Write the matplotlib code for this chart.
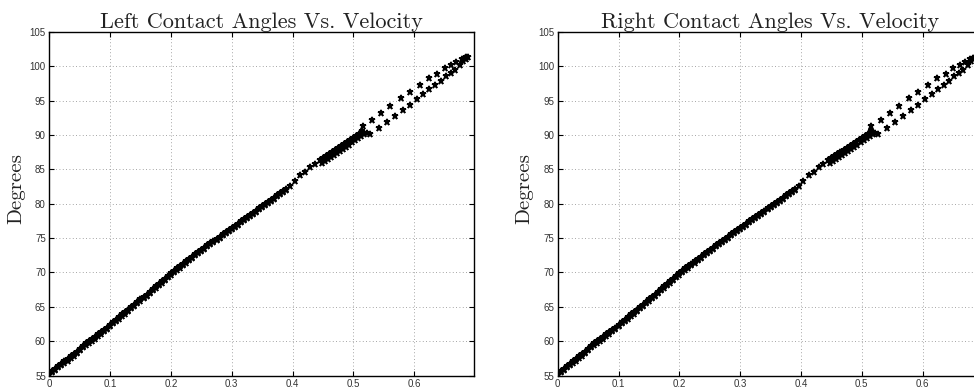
import matplotlib.pyplot as plt

# velocity / contact angle samples (same run for both sides)
vel_dense = [0.000, 0.005, 0.010, 0.015, 0.020, 0.025, 0.030, 0.035, 0.040, 0.045,
             0.050, 0.055, 0.060, 0.065, 0.070, 0.075, 0.080, 0.085, 0.090, 0.095,
             0.100, 0.105, 0.110, 0.115, 0.120, 0.125, 0.130, 0.135, 0.140, 0.145,
             0.150, 0.155, 0.160, 0.165, 0.170, 0.175, 0.180, 0.185, 0.190, 0.195,
             0.200, 0.205, 0.210, 0.215, 0.220, 0.225, 0.230, 0.235, 0.240, 0.245,
             0.250, 0.255, 0.260, 0.265, 0.270, 0.275, 0.280, 0.285, 0.290, 0.295,
             0.300, 0.305, 0.310, 0.315, 0.320, 0.325, 0.330, 0.335, 0.340, 0.345,
             0.350, 0.355, 0.360, 0.365, 0.370, 0.375, 0.380, 0.385, 0.390]
ang_dense = [55.3, 55.7, 56.0, 56.4, 56.7, 57.1, 57.4, 57.8, 58.1, 58.5,
             58.9, 59.3, 59.7, 60.0, 60.3, 60.6, 61.0, 61.3, 61.7, 62.0,
             62.4, 62.8, 63.1, 63.5, 63.9, 64.2, 64.6, 65.0, 65.3, 65.7,
             66.1, 66.5, 66.8, 67.2, 67.6, 68.0, 68.4, 68.7, 69.1, 69.5,
             69.9, 70.2, 70.6, 70.9, 71.3, 71.6, 72.0, 72.3, 72.7, 73.0,
             73.3, 73.6, 74.0, 74.3, 74.6, 74.9, 75.2, 75.6, 75.9, 76.2,
             76.5, 76.8, 77.1, 77.5, 77.8, 78.1, 78.4, 78.7, 79.0, 79.4,
             79.7, 80.0, 80.3, 80.6, 80.9, 81.3, 81.6, 81.9, 82.2]
# return pass, slightly below the outgoing one (makes the thick band)
ang_dense_back = [55.1, 55.5, 55.8, 56.2, 56.5, 56.9, 57.2, 57.6, 57.9, 58.3,
                  58.7, 59.1, 59.5, 59.8, 60.1, 60.4, 60.8, 61.1, 61.5, 61.8,
                  62.2, 62.6, 62.9, 63.3, 63.7, 64.0, 64.4, 64.8, 65.1, 65.5,
                  65.9, 66.3, 66.6, 67.0, 67.4, 67.8, 68.2, 68.5, 68.9, 69.3,
                  69.7, 70.0, 70.4, 70.7, 71.1, 71.4, 71.8, 72.1, 72.5, 72.8,
                  73.1, 73.4, 73.8, 74.1, 74.4, 74.7, 75.0, 75.4, 75.7, 76.0,
                  76.3, 76.6, 76.9, 77.3, 77.6, 77.9, 78.2, 78.5, 78.8, 79.2,
                  79.5, 79.8, 80.1, 80.4, 80.7, 81.1, 81.4, 81.7, 82.0]

vel_gap = [0.396, 0.404, 0.413, 0.421, 0.429, 0.437]
ang_gap = [82.6, 83.35, 84.1, 84.6, 85.3, 85.8]

vel_cluster_up = [0.445, 0.450, 0.455, 0.460, 0.465, 0.470, 0.475, 0.480,
                  0.485, 0.490, 0.495, 0.500, 0.505, 0.510, 0.515]
ang_cluster_up = [86.3, 86.6, 86.9, 87.2, 87.5, 87.8, 88.1, 88.4,
                  88.7, 89.0, 89.3, 89.6, 89.9, 90.2, 90.5]
vel_cluster_lo = [0.448, 0.453, 0.458, 0.463, 0.468, 0.473, 0.478, 0.483,
                  0.488, 0.493, 0.498, 0.503, 0.508, 0.513, 0.518, 0.522]
ang_cluster_lo = [85.9, 86.2, 86.5, 86.8, 87.1, 87.4, 87.7, 88.0,
                  88.3, 88.6, 88.9, 89.2, 89.5, 89.8, 90.1, 90.3]

vel_branch_up = [0.516, 0.531, 0.546, 0.561, 0.578, 0.593, 0.609, 0.624,
                 0.638, 0.650, 0.661, 0.669, 0.678, 0.683, 0.686, 0.689]
ang_branch_up = [91.3, 92.2, 93.2, 94.2, 95.3, 96.3, 97.3, 98.2,
                 98.9, 99.7, 100.2, 100.6, 101.0, 101.2, 101.3, 101.3]
vel_branch_lo = [0.527, 0.542, 0.555, 0.568, 0.581, 0.593, 0.604, 0.615,
                 0.625, 0.635, 0.644, 0.652, 0.660, 0.667, 0.675, 0.680, 0.685]
ang_branch_lo = [90.2, 91.0, 91.9, 92.7, 93.6, 94.4, 95.2, 95.9,
                 96.6, 97.3, 97.9, 98.5, 99.0, 99.5, 100.1, 100.7, 101.0]

left_vel = (vel_dense + vel_dense + vel_gap + vel_cluster_up + vel_cluster_lo
            + vel_branch_up + vel_branch_lo)
left_ang = (ang_dense + ang_dense_back + ang_gap + ang_cluster_up + ang_cluster_lo
            + ang_branch_up + ang_branch_lo)
right_vel = left_vel
right_ang = left_ang

xticks = [0, 0.1, 0.2, 0.3, 0.4, 0.5, 0.6]
xticklabels = ["0", "0.1", "0.2", "0.3", "0.4", "0.5", "0.6"]
yticks = [55, 60, 65, 70, 75, 80, 85, 90, 95, 100, 105]

plt.rcParams["font.family"] = ["Liberation Sans", "DejaVu Sans"]
plt.rcParams["axes.unicode_minus"] = False

fig = plt.figure(figsize=(9.74, 3.89), dpi=100)
ax_left = fig.add_axes([0.0506, 0.0342, 0.4364, 0.8843])
ax_right = fig.add_axes([0.5726, 0.0342, 0.4364, 0.8843])

panels = [(ax_left, left_vel, left_ang, "Left Contact Angles Vs. Velocity"),
          (ax_right, right_vel, right_ang, "Right Contact Angles Vs. Velocity")]

for ax, vel, ang, title in panels:
    ax.plot(vel, ang, "*", color="black", markersize=5, markeredgewidth=1.1)
    ax.set_xlim(0, 0.699)
    ax.set_ylim(55, 105)
    ax.set_xticks(xticks)
    ax.set_xticklabels(xticklabels)
    ax.set_yticks(yticks)
    ax.tick_params(direction="in", length=3.5, width=0.8, labelsize=7, pad=2.5,
                   top=True, right=True, colors="black", labelcolor="#333333")
    ax.grid(True, linestyle=(0, (1, 3)), linewidth=0.6, color="#888888")
    for spine in ax.spines.values():
        spine.set_linewidth(1.0)
    ax.set_title(title, fontfamily="cmr10", fontsize=16, pad=3, color="#222222")
    ax.set_ylabel("Degrees", fontfamily="cmr10", fontsize=15, color="#222222")
    ax.yaxis.set_label_coords(-0.057, 0.544)

fig.savefig("out.png", dpi=100)
